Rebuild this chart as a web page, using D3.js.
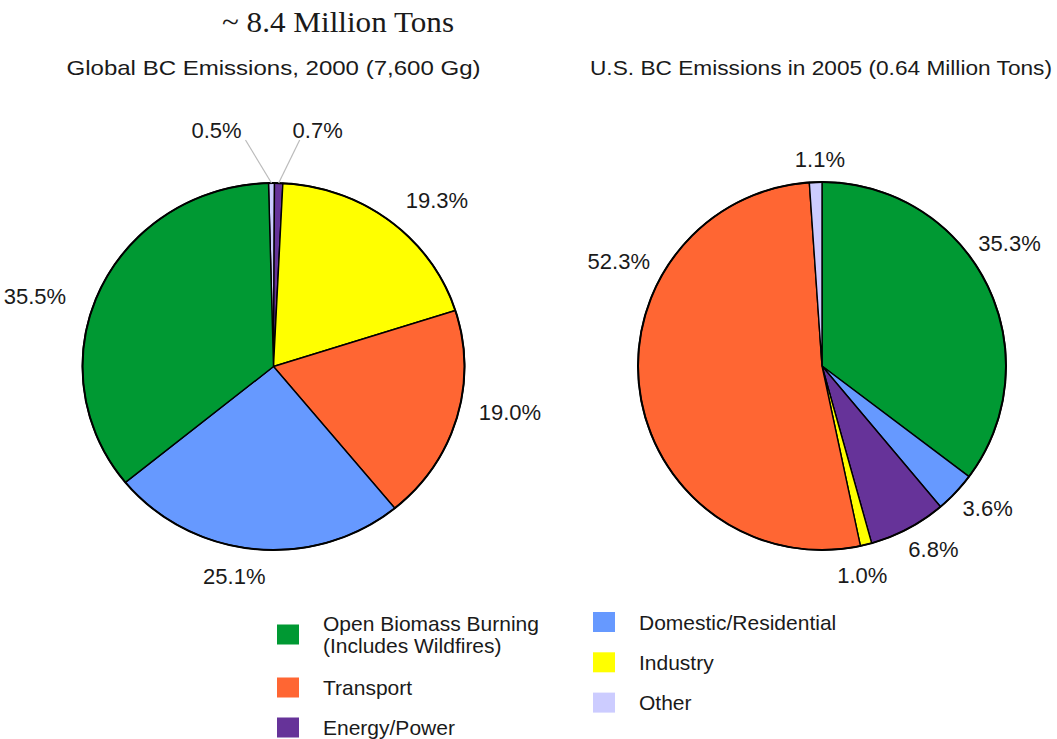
<!DOCTYPE html>
<html>
<head>
<meta charset="utf-8">
<script src="https://cdn.jsdelivr.net/npm/d3@7"></script>
<style>
  html, body { margin: 0; padding: 0; background: #fff; }
  svg { display: block; }
  text { font-family: "Liberation Sans", Arial, sans-serif; fill: #1a1a1a; }
</style>
</head>
<body>
<svg id="chart" width="1057" height="739"></svg>
<script>
// ---------------- DATA ----------------
const mainTitle = "~ 8.4 Million Tons";
const globalTitle = "Global BC Emissions, 2000 (7,600 Gg)";
const usTitle = "U.S. BC Emissions in 2005 (0.64 Million Tons)";

const categories = ["Open Biomass Burning", "Transport", "Energy/Power", "Domestic/Residential", "Industry", "Other"];
const categoryColors = ["#009933", "#FF6633", "#663399", "#6699FF", "#FFFF00", "#CCCCFF"];

// Global 2000 (clockwise from top)
const globalCats = ["Other", "Energy/Power", "Industry", "Transport", "Domestic/Residential", "Open Biomass Burning"];
const globalValues = [0.5, 0.7, 19.3, 19.0, 25.1, 35.5];

// U.S. 2005 (clockwise from top)
const usCats = ["Open Biomass Burning", "Domestic/Residential", "Energy/Power", "Industry", "Transport", "Other"];
const usValues = [35.3, 3.6, 6.8, 1.0, 52.3, 1.1];

// Legend
const legendLeft = [["Open Biomass Burning", "(Includes Wildfires)"], ["Transport"], ["Energy/Power"]];
const legendLeftCats = ["Open Biomass Burning", "Transport", "Energy/Power"];
const legendRight = [["Domestic/Residential"], ["Industry"], ["Other"]];
const legendRightCats = ["Domestic/Residential", "Industry", "Other"];

// ---------------- LAYOUT ----------------
const svg = d3.select("#chart");
const color = d3.scaleOrdinal().domain(categories).range(categoryColors);
const fmt = v => v.toFixed(1) + "%";

// Titles
svg.append("text").attr("x", 338).attr("y", 32).attr("text-anchor", "middle")
  .style("font-family", "'Liberation Serif','Times New Roman',serif").style("font-size", "29px")
  .attr("textLength", 232).attr("lengthAdjust", "spacingAndGlyphs").text(mainTitle);
svg.append("text").attr("x", 273.5).attr("y", 75).attr("text-anchor", "middle")
  .style("font-size", "21px").attr("textLength", 414).attr("lengthAdjust", "spacingAndGlyphs").text(globalTitle);
svg.append("text").attr("x", 821).attr("y", 75).attr("text-anchor", "middle")
  .style("font-size", "21px").attr("textLength", 462).attr("lengthAdjust", "spacingAndGlyphs").text(usTitle);

// label nudges relative to the computed arc anchor (layout only)
const nudges = {
  global: {"Industry": [2, -4], "Transport": [0, -12], "Domestic/Residential": [-18, -3], "Open Biomass Burning": [-13, 15]},
  us: {"Open Biomass Burning": [-28, -31], "Domestic/Residential": [-9, 0], "Energy/Power": [-10, 1],
       "Industry": [-9, 0], "Transport": [32, -134], "Other": [5, 7]}
};
// small slices that get leader lines: [dx of line end, dy of line end, text dx]
const leaders = {
  global: {"Other": [-26, -43, -29], "Energy/Power": [21, -43, 18]}
};

function drawPie(opts) {
  const {cats, values, cx, cy, r, sx, startDeg, key} = opts;
  const data = cats.map((c, i) => ({cat: c, value: values[i]}));
  const start = startDeg * Math.PI / 180;
  const pie = d3.pie().sort(null).value(d => d.value).startAngle(start).endAngle(start + 2 * Math.PI);
  const arcs = pie(data);
  const arc = d3.arc().innerRadius(0).outerRadius(r);

  const g = svg.append("g").attr("transform", `translate(${cx},${cy}) scale(${sx},1)`);
  g.selectAll("path").data(arcs).join("path")
    .attr("d", arc)
    .attr("fill", d => color(d.data.cat))
    .attr("stroke", "#000")
    .attr("stroke-width", 1.4)
    .attr("stroke-linejoin", "round")
    .attr("vector-effect", "non-scaling-stroke");
  g.append("circle").attr("r", r).attr("fill", "none").attr("stroke", "#000")
    .attr("stroke-width", 2).attr("vector-effect", "non-scaling-stroke");

  const lg = svg.append("g");
  arcs.forEach(a => {
    const mid = (a.startAngle + a.endAngle) / 2;
    const s = Math.sin(mid), c = Math.cos(mid);
    const ld = leaders[key] && leaders[key][a.data.cat];
    if (ld) {
      const x0 = cx + r * sx * s, y0 = cy - r * c;
      const x1 = x0 + ld[0], y1 = y0 + ld[1];
      lg.append("line").attr("x1", x0).attr("y1", y0).attr("x2", x1).attr("y2", y1)
        .attr("stroke", "#bbbbbb").attr("stroke-width", 1.2);
      lg.append("text").attr("x", x1 + ld[2]).attr("y", y1 - 2).attr("text-anchor", "middle")
        .style("font-size", "22px").text(fmt(a.data.value));
      return;
    }
    const R = r + 22;
    let x = cx + R * sx * s, y = cy - R * c;
    const nd = (nudges[key] && nudges[key][a.data.cat]) || [0, 0];
    x += nd[0]; y += nd[1];
    const anchor = s > 0.3 ? "start" : (s < -0.3 ? "end" : "middle");
    let dy;
    if (anchor === "middle") dy = c > 0 ? 0 : 16.5; else dy = 8;
    lg.append("text").attr("x", x).attr("y", y + dy).attr("text-anchor", anchor)
      .style("font-size", "22px").text(fmt(a.data.value));
  });
}

drawPie({cats: globalCats, values: globalValues, cx: 273.5, cy: 366.5, r: 183.5, sx: 191 / 183.5, startDeg: -1.5, key: "global"});
drawPie({cats: usCats, values: usValues, cx: 822, cy: 366, r: 184, sx: 1, startDeg: 0, key: "us"});

// Legend
function drawLegend(items, cats, x, yStart, gap) {
  let y = yStart;
  items.forEach((lines, i) => {
    const extra = (lines.length - 1) * 13;
    const yc = y;
    svg.append("rect").attr("x", x).attr("y", yc - 10).attr("width", 22).attr("height", 20)
      .attr("fill", color(cats[i]));
    const t = svg.append("text").attr("x", x + 46).style("font-size", "21px");
    const first = yc + 7.5 - (lines.length - 1) * 11;
    lines.forEach((ln, j) => {
      t.append("tspan").attr("x", x + 46).attr("y", first + j * 22).text(ln);
    });
    y += gap + extra;
  });
}
drawLegend(legendLeft, legendLeftCats, 277, 634.5, 40);
drawLegend(legendRight, legendRightCats, 593, 622, 40.3);
</script>
</body>
</html>
